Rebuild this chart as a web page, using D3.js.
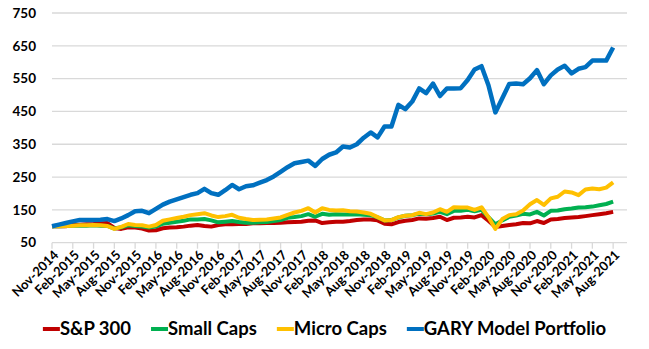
<!DOCTYPE html>
<html>
<head>
<meta charset="utf-8">
<script src="https://cdn.jsdelivr.net/npm/d3@7"></script>
<style>
body{margin:0;background:#fff;}
svg{display:block;font-family:Lato,"Open Sans",sans-serif;font-weight:bold;}
</style>
</head>
<body>
<svg id="chart" width="649" height="349"></svg>
<script>
// monthly values, Nov-2014 .. Aug-2021
var sp300 = [100,101,100,104,105,106,107,109,110,95,92,97,96,93,87,88,94,96,97,99,102,104,101,99,104,106,106,107,107,109,109,110,110,111,112,113,114,117,118,110,112,114,114,116,119,121,121,118,108,106,113,117,119,124,123,125,129,119,126,127,129,127,134,117,98,101,104,106,110,109,116,110,121,122,125,127,128,131,134,137,140,144];
var smallCaps = [100,100,101,102,102,102,103,102,101,93,97,103,101,99,96,99,108,111,114,117,121,121,122,118,112,114,116,113,111,111,112,113,116,119,126,128,131,137,129,138,135,137,136,136,137,135,134,127,118,119,127,132,134,138,137,139,144,137,147,147,150,146,150,128,106,118,129,133,138,136,144,133,147,148,152,154,157,158,160,164,168,175];
var microCaps = [100,100,101,102,103,103,104,103,101,92,98,107,104,103,99,104,117,121,125,129,134,137,140,133,128,131,135,126,122,119,120,121,124,127,135,142,147,155,142,155,150,148,149,146,145,142,138,128,118,119,128,132,134,141,137,142,152,144,158,157,157,150,158,128,92,122,134,137,148,167,180,165,185,190,206,203,195,212,215,213,218,234];
var gary = [100,105,110,115,119,119,119,120,122,116,124,134,146,147,140,153,166,175,182,189,196,201,214,201,196,210,226,213,222,225,233,241,252,266,280,292,296,300,284,305,318,325,343,340,350,370,386,371,404,404,470,457,480,520,506,535,497,520,520,521,546,578,588,530,447,490,534,535,533,551,576,533,560,578,589,566,580,585,605,605,605,645];
var seriesNames = ["S&P 300","Small Caps","Micro Caps","GARY Model Portfolio"];
var seriesColors = ["#c00000","#00b050","#ffc000","#0070c0"];
var tickLabels = ["Nov-2014","Feb-2015","May-2015","Aug-2015","Nov-2015","Feb-2016","May-2016","Aug-2016","Nov-2016","Feb-2017","May-2017","Aug-2017","Nov-2017","Feb-2018","May-2018","Aug-2018","Nov-2018","Feb-2019","May-2019","Aug-2019","Nov-2019","Feb-2020","May-2020","Aug-2020","Nov-2020","Feb-2021","May-2021","Aug-2021"];
var yTicks = [50,150,250,350,450,550,650,750];

var svg = d3.select("#chart");
var x = d3.scaleLinear().domain([0,83]).range([52,627]);
var y = d3.scaleLinear().domain([50,750]).range([242.7,13]);

// gridlines
svg.append("g").selectAll("line").data(yTicks).enter().append("line")
  .attr("x1",52).attr("x2",627).attr("y1",d=>y(d)).attr("y2",d=>y(d))
  .attr("stroke","#d9d9d9").attr("stroke-width",1.3);

// y labels
svg.append("g").selectAll("text").data(yTicks).enter().append("text")
  .attr("x",36).attr("y",d=>y(d)).attr("dy","0.35em").attr("text-anchor","end")
  .attr("font-size","13.5px").attr("fill","#000").text(d=>d);

// x ticks + labels
var xt = svg.append("g");
xt.selectAll("line").data(tickLabels).enter().append("line")
  .attr("x1",(d,i)=>x(i*3)).attr("x2",(d,i)=>x(i*3)).attr("y1",y(50)).attr("y2",y(50)+6)
  .attr("stroke","#d9d9d9").attr("stroke-width",1.3);
xt.selectAll("text").data(tickLabels).enter().append("text")
  .attr("transform",(d,i)=>"translate("+(x(i*3)+4)+","+(y(50)+10)+") rotate(-45)")
  .attr("text-anchor","end").attr("dy","0.35em")
  .attr("font-size","13px").attr("fill","#000").text(d=>d);

// lines
var all = [sp300,smallCaps,microCaps,gary];
var line = d3.line().x((d,i)=>x(i)).y(d=>y(d));
svg.append("g").selectAll("path").data(all).enter().append("path")
  .attr("d",line).attr("fill","none")
  .attr("stroke",(d,i)=>seriesColors[i]).attr("stroke-width",(d,i)=>i==3?4.5:4)
  .attr("stroke-linejoin","round");

// legend
var lg = svg.append("g");
var items = lg.selectAll("g").data(seriesNames).enter().append("g");
items.append("line").attr("x1",0).attr("x2",17).attr("y1",0).attr("y2",0)
  .attr("stroke",(d,i)=>seriesColors[i]).attr("stroke-width",4);
items.append("text").attr("x",17).attr("dy","0.35em").attr("font-size","18.5px")
  .attr("fill","#000").text(d=>d);
var pos = 0;
items.each(function(){
  var w = d3.select(this).select("text").node().getComputedTextLength();
  d3.select(this).attr("transform","translate("+pos+",0)");
  pos += 17+w+20;
});
pos -= 20;
lg.attr("transform","translate("+(324.5-pos/2)+",329)");
</script>
</body>
</html>
